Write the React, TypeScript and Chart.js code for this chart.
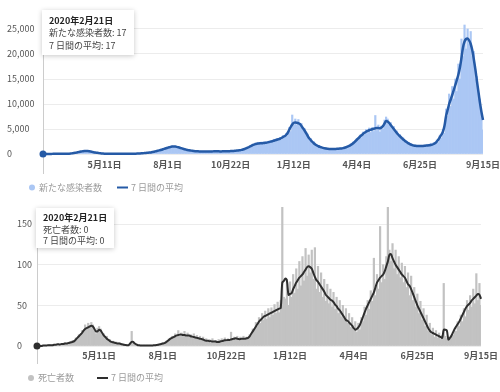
import React, { useEffect, useRef } from 'react';
import { Chart, registerables } from 'chart.js';

Chart.register(...registerables);

// Daily series sampled every 2 days, starting 2020-02-21
const START_YMD = [2020, 2, 21];
const STEP_DAYS = 2;

const TICK_INDEX = [40, 81, 122, 163, 204, 245, 286];
const TICK_LABELS = ['5月11日', '8月1日', '10月22日', '1月12日', '4月4日', '6月25日', '9月15日'];

const CASES_Y_TICKS = [0, 5000, 10000, 15000, 20000, 25000];
const DEATHS_Y_TICKS = [0, 50, 100, 150];
const CASES_Y_MAX = 26000;
const DEATHS_Y_MAX = 171;

const CASES_LABEL = '新たな感染者数';
const DEATHS_LABEL = '死亡者数';
const AVG_LABEL = '7 日間の平均';

const CASES = [
  17, 10, 20, 14, 22, 18, 30, 27, 40, 35,
  50, 40, 45, 30, 44, 42, 60, 65, 120, 130,
  200, 220, 330, 350, 480, 430, 620, 560, 700, 560,
  620, 440, 470, 320, 330, 220, 210, 150, 120, 80,
  85, 45, 50, 30, 35, 28, 32, 30, 40, 36,
  45, 38, 50, 42, 52, 45, 58, 50, 68, 60,
  80, 72, 105, 100, 150, 140, 210, 200, 270, 260,
  360, 340, 490, 480, 660, 620, 840, 780, 1050, 980,
  1280, 1150, 1500, 1300, 1600, 1400, 1580, 1300, 1450, 1150,
  1250, 950, 1040, 800, 860, 680, 740, 580, 650, 520,
  600, 480, 560, 450, 540, 440, 520, 460, 550, 470,
  570, 480, 600, 500, 580, 470, 560, 490, 590, 510,
  610, 520, 640, 540, 680, 600, 740, 660, 840, 750,
  1000, 900, 1250, 1050, 1550, 1300, 1950, 1650, 2200, 1900,
  2350, 1950, 2400, 2000, 2450, 2050, 2550, 2200, 2700, 2350,
  2950, 2450, 3100, 2700, 3300, 2800, 3700, 3200, 4100, 3600,
  5300, 4500, 7800, 5800, 7000, 5800, 6900, 5500, 6100, 4800,
  5100, 3900, 4000, 2900, 3100, 2300, 2500, 1800, 1900, 1400,
  1600, 1250, 1350, 1050, 1200, 980, 1100, 950, 1100, 940,
  1120, 960, 1150, 1000, 1250, 1080, 1400, 1200, 1650, 1450,
  2000, 1800, 2500, 2300, 3100, 2700, 3800, 3300, 4400, 3800,
  4900, 4100, 5200, 4300, 5300, 4500, 7700, 4700, 5800, 4400,
  5600, 5000, 6800, 7400, 7000, 5800, 6300, 5000, 5500, 4200,
  4600, 3600, 3900, 2900, 3300, 2400, 2700, 2000, 2300, 1700,
  1950, 1500, 1800, 1400, 1750, 1400, 1750, 1450, 1800, 1500,
  1950, 1550, 2150, 1750, 2300, 1950, 2800, 2300, 3800, 3200,
  4900, 4200, 9000, 7500, 12000, 9500, 13500, 11000, 15000, 12500,
  18000, 15000, 23000, 19500, 25800, 21000, 25000, 22000, 24500, 19500,
  20500, 15000, 15500, 11000, 11000, 7500, 4800,
];

const CASES_AVG = [
  17, 15, 14, 16, 18, 20, 25, 30, 35, 38,
  42, 45, 40, 38, 40, 45, 55, 70, 100, 140,
  180, 230, 300, 370, 440, 500, 560, 600, 620, 600,
  560, 500, 430, 360, 300, 250, 200, 160, 120, 90,
  70, 55, 45, 38, 32, 30, 30, 32, 35, 38,
  40, 42, 45, 45, 48, 50, 52, 55, 60, 65,
  70, 80, 95, 110, 130, 160, 190, 220, 250, 280,
  320, 380, 440, 520, 600, 680, 760, 840, 950, 1050,
  1150, 1250, 1350, 1420, 1480, 1500, 1480, 1420, 1340, 1250,
  1150, 1050, 960, 880, 800, 740, 690, 640, 600, 570,
  550, 530, 510, 500, 500, 490, 480, 490, 500, 510,
  520, 530, 540, 540, 530, 520, 520, 530, 540, 550,
  560, 570, 580, 600, 620, 650, 680, 720, 760, 820,
  900, 1000, 1120, 1260, 1400, 1560, 1720, 1860, 1980, 2050,
  2100, 2150, 2150, 2180, 2220, 2260, 2320, 2400, 2480, 2550,
  2650, 2750, 2850, 2950, 3050, 3200, 3400, 3550, 3800, 4200,
  4800, 5400, 5900, 6250, 6300, 6250, 6150, 6000, 5600, 5150,
  4700, 4200, 3650, 3150, 2800, 2450, 2150, 1900, 1700, 1550,
  1420, 1320, 1230, 1150, 1080, 1040, 1010, 1000, 1000, 1010,
  1020, 1030, 1050, 1080, 1120, 1180, 1260, 1360, 1480, 1620,
  1800, 2000, 2250, 2550, 2850, 3150, 3450, 3750, 4000, 4250,
  4450, 4600, 4750, 4850, 4950, 5050, 5150, 5200, 5200, 5150,
  5300, 5600, 6100, 6600, 6500, 6200, 5800, 5400, 5000, 4600,
  4200, 3850, 3550, 3250, 2950, 2700, 2450, 2250, 2050, 1900,
  1780, 1700, 1640, 1600, 1580, 1580, 1590, 1610, 1640, 1680,
  1700, 1740, 1800, 1880, 2000, 2200, 2500, 2900, 3400, 3900,
  4500, 5700, 7600, 8800, 10000, 10900, 11800, 12800, 13800, 14800,
  15900, 17300, 19200, 21300, 22500, 23000, 23100, 22700, 22000, 20800,
  19000, 17000, 14700, 12500, 10300, 8400, 6800,
];

const DEATHS = [
  0, 0, 0, 1, 0, 1, 0, 1, 2, 1,
  1, 2, 0, 3, 2, 1, 3, 2, 4, 3,
  3, 5, 4, 7, 6, 10, 9, 14, 13, 19,
  18, 26, 20, 28, 22, 29, 26, 18, 15, 22,
  24, 21, 14, 15, 9, 12, 6, 8, 4, 6,
  3, 5, 2, 4, 2, 3, 1, 2, 0, 1,
  2, 18, 4, 3, 1, 1, 0, 1, 0, 1,
  0, 1, 0, 1, 0, 1, 1, 2, 1, 3,
  2, 4, 3, 6, 5, 9, 8, 12, 10, 15,
  11, 19, 13, 16, 12, 18, 11, 16, 12, 14,
  10, 15, 9, 13, 8, 12, 7, 11, 6, 9,
  5, 8, 5, 9, 4, 7, 4, 8, 5, 9,
  6, 10, 5, 9, 7, 17, 8, 11, 9, 12,
  7, 11, 8, 12, 7, 11, 9, 14, 12, 21,
  19, 29, 24, 35, 28, 40, 32, 43, 33, 46,
  35, 47, 38, 51, 40, 54, 41, 56, 200, 60,
  58, 82, 50, 79, 60, 88, 65, 95, 70, 104,
  74, 110, 80, 120, 86, 112, 90, 118, 82, 121,
  70, 98, 66, 90, 60, 82, 55, 76, 52, 70,
  48, 66, 45, 60, 40, 56, 36, 50, 32, 46,
  28, 40, 23, 35, 20, 30, 17, 28, 20, 35,
  30, 48, 38, 56, 45, 68, 55, 108, 62, 88,
  70, 147, 78, 100, 82, 110, 216, 118, 104, 126,
  95, 118, 88, 110, 84, 102, 78, 98, 72, 90,
  62, 86, 56, 72, 48, 64, 40, 55, 32, 46,
  24, 38, 18, 28, 14, 22, 11, 19, 10, 16,
  8, 13, 77, 12, 9, 6, 8, 11, 13, 19,
  18, 30, 24, 38, 30, 46, 36, 56, 44, 62,
  48, 70, 52, 89, 56, 77, 50,
];

const DEATHS_AVG = [
  0, 0, 0, 0, 0.5, 0.5, 0.5, 1, 1, 1,
  1, 1.5, 1.5, 2, 2, 2, 2.5, 2.5, 3, 3,
  3.5, 4, 4.5, 5, 6, 8, 10, 12, 14, 16,
  19, 21, 22, 23, 24, 25, 24, 21, 18, 18,
  20, 19, 16, 13, 11, 9, 7.5, 6, 5, 4.5,
  4, 3.5, 3, 3, 2.5, 2, 1.5, 1.2, 1, 1,
  3, 5, 5, 3, 2, 1, 0.8, 0.5, 0.5, 0.5,
  0.5, 0.5, 0.5, 0.5, 0.6, 0.8, 1, 1.2, 1.5, 2,
  2.5, 3, 3.5, 4.5, 6, 7.5, 9, 10, 11, 12,
  13, 13.5, 14, 14, 13.5, 13.5, 13, 13, 13, 12,
  11.5, 11, 10.5, 10, 9.5, 9, 8.5, 8, 7, 6.5,
  6.5, 6, 6, 5.5, 5.5, 5.5, 5, 5, 5.5, 6,
  6.5, 7, 7, 7.5, 7.5, 8, 8.5, 9, 9.5, 9,
  8.5, 8.5, 9, 9, 9, 9.5, 10, 12, 15, 18,
  21, 24, 27, 30, 32, 34, 36, 37, 38, 39,
  40, 41, 42, 43, 44, 45, 46, 47, 78, 80,
  83, 80, 63, 64, 65, 70, 74, 78, 81, 84,
  86, 88, 91, 94, 97, 98, 97, 95, 90, 85,
  81, 79, 76, 73, 70, 67, 63, 61, 59, 57,
  56, 54, 51, 49, 46, 44, 41, 38, 35, 32,
  31, 29, 27, 25, 22, 20, 21, 23, 26, 31,
  36, 41, 46, 50, 54, 58, 62, 66, 72, 78,
  81, 84, 86, 88, 92, 98, 104, 112, 113, 108,
  104, 100, 97, 94, 91, 88, 86, 84, 80, 76,
  74, 70, 65, 60, 55, 50, 46, 42, 38, 34,
  30, 26, 22, 19, 17, 16, 15, 14, 13, 12,
  11, 10, 20, 20, 19, 8, 10, 13, 17, 21,
  24, 27, 30, 34, 38, 42, 46, 49, 51, 53,
  56, 58, 60, 62, 64, 63, 58,
];

const FONT = '"Noto Sans CJK JP", "Noto Sans", sans-serif';

function dateLabel(i: number): string {
  const t = Date.UTC(START_YMD[0], START_YMD[1] - 1, START_YMD[2]) + i * STEP_DAYS * 86400000;
  const d = new Date(t);
  return `${d.getUTCFullYear()}年${d.getUTCMonth() + 1}月${d.getUTCDate()}日`;
}

const overlayPlugin = {
  id: 'overlay',
  beforeDatasetsDraw(chart: any, _args: any, o: any) {
    const { ctx, chartArea } = chart;
    const x = Math.round(chartArea.left) + 0.5;
    ctx.save();
    ctx.strokeStyle = '#cccccc';
    ctx.lineWidth = 1;
    ctx.beginPath();
    ctx.moveTo(x, o.tip.y + o.tip.h);
    ctx.lineTo(x, chartArea.bottom + o.crossExtra);
    ctx.stroke();
    ctx.restore();
  },
  afterDraw(chart: any, _args: any, o: any) {
    const { ctx } = chart;
    const lineDs = chart.data.datasets[0];
    const barDs = chart.data.datasets[1];
    ctx.save();
    // legend
    const L = o.legend;
    ctx.textBaseline = 'middle';
    ctx.textAlign = 'left';
    ctx.font = `9px ${FONT}`;
    ctx.fillStyle = barDs.backgroundColor;
    ctx.beginPath();
    ctx.arc(L.dotX, L.y, 3, 0, Math.PI * 2);
    ctx.fill();
    ctx.fillStyle = '#9a9a9a';
    ctx.fillText(barDs.label, L.dotX + 7, L.y);
    ctx.strokeStyle = lineDs.borderColor;
    ctx.lineWidth = 2;
    ctx.beginPath();
    ctx.moveTo(L.lineX, L.y);
    ctx.lineTo(L.lineX + 11, L.y);
    ctx.stroke();
    ctx.fillText(lineDs.label, L.lineX + 14, L.y);

    // tooltip
    const T = o.tip;
    const title = dateLabel(0);
    const lines = [`${barDs.label}: ${barDs.data[0]}`, `${lineDs.label}: ${lineDs.data[0]}`];
    ctx.font = `bold 9px ${FONT}`;
    let w = ctx.measureText(title).width;
    ctx.font = `9px ${FONT}`;
    lines.forEach((s) => { w = Math.max(w, ctx.measureText(s).width); });
    const bw = Math.round(w + T.padX * 2);
    ctx.save();
    ctx.shadowColor = 'rgba(0,0,0,0.22)';
    ctx.shadowBlur = 5;
    ctx.shadowOffsetY = 1;
    ctx.fillStyle = '#ffffff';
    ctx.fillRect(T.x, T.y, bw, T.h);
    ctx.restore();
    ctx.fillStyle = '#222222';
    ctx.font = `bold 9px ${FONT}`;
    ctx.fillText(title, T.x + T.padX, T.y + T.first);
    ctx.fillStyle = '#444444';
    ctx.font = `9px ${FONT}`;
    lines.forEach((s, k) => ctx.fillText(s, T.x + T.padX, T.y + T.first + (k + 1) * T.gap));
    ctx.restore();
  },
};

function buildConfig(p: any): any {
  const labels = p.bars.map((_: number, i: number) => dateLabel(i));
  return {
    type: 'bar',
    data: {
      labels,
      datasets: [
        {
          type: 'line',
          label: p.lineLabel,
          data: p.avg,
          borderColor: p.lineColor,
          backgroundColor: p.lineColor,
          borderWidth: p.lineWidth,
          tension: 0.35,
          pointRadius: (ctx: any) => (ctx.dataIndex === 0 ? 3.5 : 0),
          pointHoverRadius: 0,
          pointBorderWidth: 0,
          clip: false,
          order: 0,
        },
        {
          type: 'bar',
          label: p.barLabel,
          data: p.bars,
          backgroundColor: p.barColor,
          borderWidth: 0,
          barPercentage: p.barPct,
          categoryPercentage: 1,
          order: 1,
        },
      ],
    },
    options: {
      responsive: false,
      animation: false,
      events: [],
      layout: { padding: p.padding },
      plugins: {
        legend: { display: false },
        tooltip: { enabled: false },
        overlay: { tip: p.tip, legend: p.legend, crossExtra: p.crossExtra },
      },
      scales: {
        x: {
          type: 'category',
          offset: false,
          grid: { display: false, drawTicks: false },
          border: { display: false },
          afterBuildTicks: (s: any) => { s.ticks = TICK_INDEX.map((v) => ({ value: v })); },
          afterFit: (s: any) => { s.height = 20; s.paddingLeft = 0; s.paddingRight = 0; },
          ticks: {
            autoSkip: false,
            maxRotation: 0,
            minRotation: 0,
            padding: p.xPad,
            color: '#555555',
            font: { family: FONT, size: 9, weight: 'bold' },
            callback: (v: number) => TICK_LABELS[TICK_INDEX.indexOf(v)],
          },
        },
        y: {
          min: 0,
          max: p.yMax,
          afterBuildTicks: (s: any) => { s.ticks = p.yTicks.map((v: number) => ({ value: v })); },
          afterFit: (s: any) => { s.width = p.yWidth; },
          grid: { color: '#ececec', drawTicks: false },
          border: { display: false },
          ticks: {
            crossAlign: 'far',
            color: '#555555',
            font: { family: FONT, size: 9 },
            callback: (v: number) => v.toLocaleString('en-US'),
          },
        },
      },
    },
    plugins: [overlayPlugin],
  };
}

const TOP = {
  bars: CASES, avg: CASES_AVG, barLabel: CASES_LABEL, lineLabel: AVG_LABEL,
  barColor: '#abc7f4', lineColor: '#255aa6', lineWidth: 2.5, barPct: 1,
  yMax: CASES_Y_MAX, yTicks: CASES_Y_TICKS, yWidth: 36,
  padding: { left: 7, right: 17, top: 24, bottom: 22 }, xPad: 5,
  tip: { x: 42, y: 10, h: 45, padX: 7, first: 10.7, gap: 12.3 },
  legend: { dotX: 32, y: 187.5, lineX: 117 },
  crossExtra: 20,
};

const BOTTOM = {
  bars: DEATHS, avg: DEATHS_AVG, barLabel: DEATHS_LABEL, lineLabel: AVG_LABEL,
  barColor: '#c2c2c2', lineColor: '#2e2e2e', lineWidth: 2, barPct: 1,
  yMax: DEATHS_Y_MAX, yTicks: DEATHS_Y_TICKS, yWidth: 20,
  padding: { left: 17, right: 19, top: 11, bottom: 26 }, xPad: 4,
  tip: { x: 36, y: 12, h: 40, padX: 7, first: 10, gap: 11.3 },
  legend: { dotX: 31, y: 182, lineX: 97 },
  crossExtra: 18,
};

export default function App() {
  const topRef = useRef<HTMLCanvasElement>(null);
  const botRef = useRef<HTMLCanvasElement>(null);
  useEffect(() => {
    const c1 = new Chart(topRef.current as HTMLCanvasElement, buildConfig(TOP));
    const c2 = new Chart(botRef.current as HTMLCanvasElement, buildConfig(BOTTOM));
    return () => { c1.destroy(); c2.destroy(); };
  }, []);
  return (
    <div style={{ position: 'fixed', left: 0, top: 0, width: 500, height: 392, background: '#ffffff' }}>
      <canvas ref={topRef} width={500} height={196} style={{ display: 'block', width: 500, height: 196 }} />
      <canvas ref={botRef} width={500} height={196} style={{ display: 'block', width: 500, height: 196 }} />
    </div>
  );
}
